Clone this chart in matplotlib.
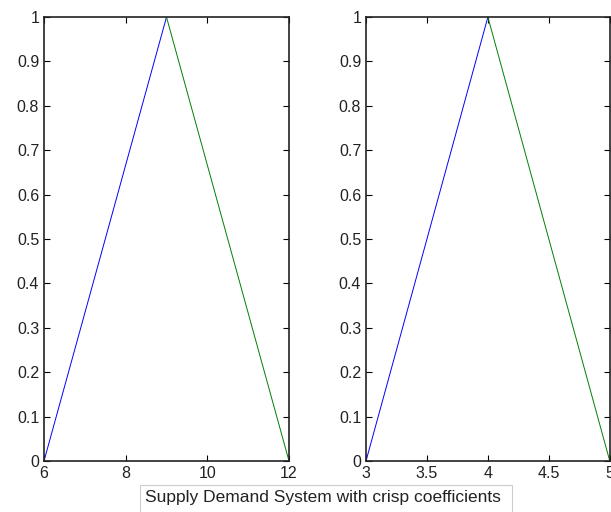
import matplotlib

matplotlib.use("Agg")
import matplotlib.pyplot as plt
from matplotlib.patches import Rectangle

# left panel: supply
supply_x_up = [6, 9]
supply_y_up = [0, 1]
supply_x_down = [9, 12]
supply_y_down = [1, 0]
supply_xticks = [6, 8, 10, 12]

# right panel: demand
demand_x_up = [3, 4]
demand_y_up = [0, 1]
demand_x_down = [4, 5]
demand_y_down = [1, 0]
demand_xticks = [3, 3.5, 4, 4.5, 5]

yticks = [0, 0.1, 0.2, 0.3, 0.4, 0.5, 0.6, 0.7, 0.8, 0.9, 1]
ytick_labels = ["0", "0.1", "0.2", "0.3", "0.4", "0.5", "0.6", "0.7", "0.8", "0.9", "1"]
caption = "Supply Demand System with crisp coefficients"

plt.rcParams["font.family"] = ["Liberation Sans", "DejaVu Sans"]

fig = plt.figure(figsize=(6.11, 5.12), dpi=100)
ax1 = fig.add_axes([0.072, 0.0996, 0.401, 0.867])
ax2 = fig.add_axes([0.599, 0.0996, 0.399, 0.867])


def style(ax, xticks, xlim):
    ax.set_xlim(*xlim)
    ax.set_ylim(0, 1)
    ax.set_xticks(xticks)
    ax.set_xticklabels([("%g" % t) for t in xticks])
    ax.set_yticks(yticks)
    ax.set_yticklabels(ytick_labels)
    ax.tick_params(direction="in", top=True, right=True, length=4, width=0.8,
                   labelsize=11.5, pad=3.5, labelcolor="#222222")
    for spine in ax.spines.values():
        spine.set_linewidth(1.2)
        spine.set_color("#222222")


ax1.plot(supply_x_up, supply_y_up, color="#0000ff", lw=0.7)
ax1.plot(supply_x_down, supply_y_down, color="#008000", lw=0.7)
style(ax1, supply_xticks, (6, 12))

ax2.plot(demand_x_up, demand_y_up, color="#0000ff", lw=0.7)
ax2.plot(demand_x_down, demand_y_down, color="#008000", lw=0.7)
style(ax2, demand_xticks, (3, 5))

fig.patches.append(Rectangle((0.229, -0.01), 0.609, 0.063, transform=fig.transFigure,
                             facecolor="white", edgecolor="#cccccc", linewidth=0.8))
fig.text(0.529, 0.029, caption, ha="center", va="center", fontsize=12.5,
         color="#222222")

fig.savefig("out.png", dpi=100)
